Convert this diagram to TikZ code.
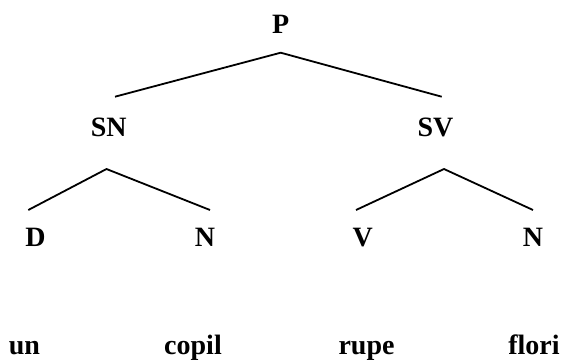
\documentclass[tikz,border=0pt]{standalone}
\usepackage{fontspec}
\setmainfont{Liberation Serif}
\tikzset{
  lbl/.style={inner sep=0pt, anchor=base, font=\fontsize{28}{30}\selectfont\bfseries},
  edge/.style={line width=1.8pt, line cap=butt, line join=miter}
}
\begin{document}
\begin{tikzpicture}[x=1pt,y=-1pt]
\useasboundingbox (0,0) rectangle (567,360);
% category labels
\node[lbl] (P) at (280.7,33) {P};
\node[lbl] (SN) at (108.7,136.5) {SN};
\node[lbl] (SV) at (435.5,136.5) {SV};
\node[lbl] (D) at (35.5,246.7) {D};
\node[lbl] (N1) at (205,246.7) {N};
\node[lbl] (V) at (362.7,246.7) {V};
\node[lbl] (N2) at (533,246.7) {N};
% words
\node[lbl] (w1) at (24.5,354) {un};
\node[lbl] (w2) at (193,354) {copil};
\node[lbl] (w3) at (366.5,354) {rupe};
\node[lbl] (w4) at (534,354) {flori};
% branch ends
\coordinate (Pb) at (280.7,52.7);
\coordinate (SNt) at (115,96.7);
\coordinate (SVt) at (441.7,96.7);
\coordinate (SNb) at (106.5,169);
\coordinate (SVb) at (444,169);
\coordinate (Dt) at (28.3,210);
\coordinate (N1t) at (210,210);
\coordinate (Vt) at (356,210);
\coordinate (N2t) at (533,210);
\draw[edge] (SNt) -- (Pb) -- (SVt);
\draw[edge] (Dt) -- (SNb) -- (N1t);
\draw[edge] (Vt) -- (SVb) -- (N2t);
\end{tikzpicture}
\end{document}
